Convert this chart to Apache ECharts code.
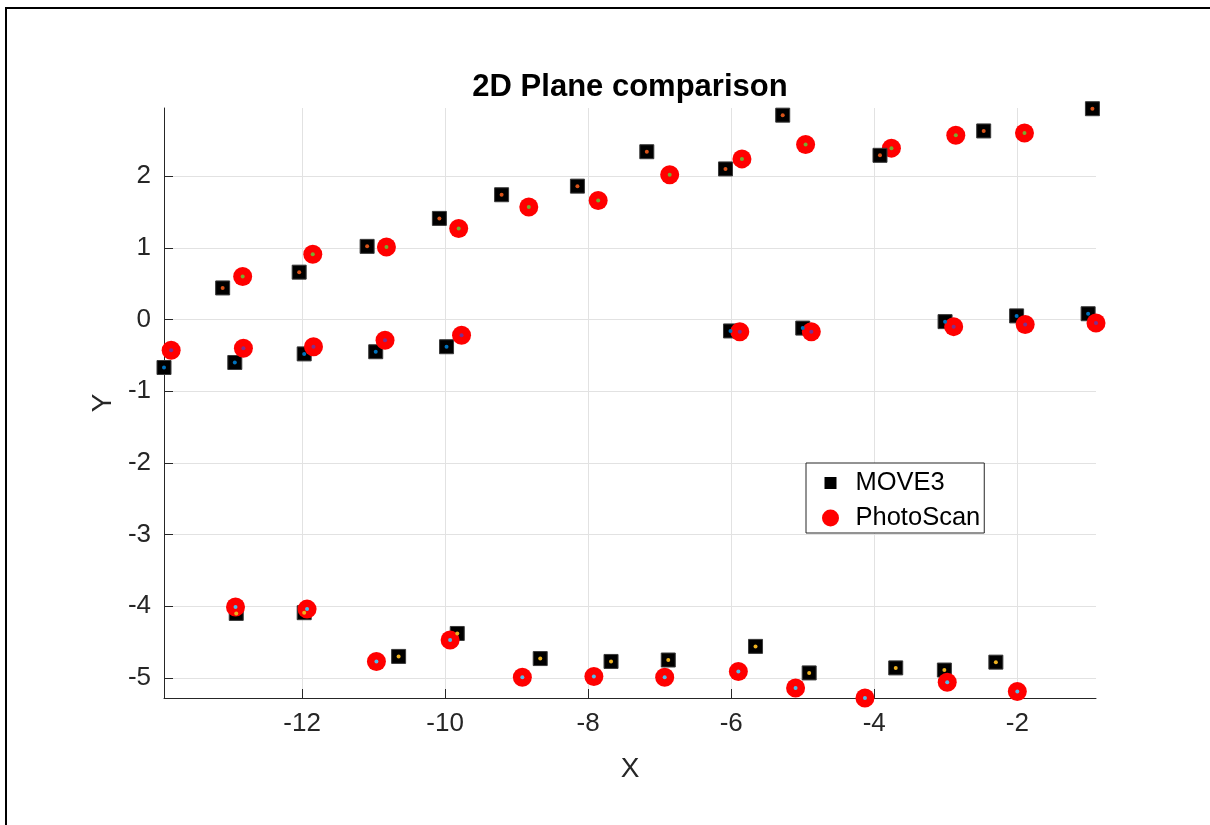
<!DOCTYPE html>
<html>
<head>
<meta charset="utf-8">
<script src="https://cdn.jsdelivr.net/npm/echarts@6/dist/echarts.min.js"></script>
<style>
html,body{margin:0;padding:0;background:#fff;}
#chart{width:1210px;height:825px;}
</style>
</head>
<body>
<div id="chart"></div>
<script>
// ---- data ----
const xTicks = [-12, -10, -8, -6, -4, -2];
const yTicks = [-5, -4, -3, -2, -1, 0, 1, 2];

const move3TopX = [-13.11, -12.04, -11.09, -10.08, -9.21, -8.15, -7.18, -6.08, -5.28, -3.92, -2.47, -0.95];
const move3TopY = [0.44, 0.66, 1.02, 1.41, 1.74, 1.86, 2.34, 2.10, 2.85, 2.29, 2.63, 2.94];
const photoTopX = [-12.83, -11.85, -10.82, -9.81, -8.83, -7.86, -6.86, -5.85, -4.96, -3.76, -2.86, -1.90];
const photoTopY = [0.60, 0.91, 1.01, 1.27, 1.57, 1.66, 2.02, 2.24, 2.44, 2.39, 2.57, 2.60];

const move3MidX = [-13.93, -12.94, -11.97, -10.97, -9.98, -6.01, -5.00, -3.01, -2.01, -1.01];
const move3MidY = [-0.67, -0.60, -0.48, -0.45, -0.38, -0.16, -0.12, -0.03, 0.05, 0.08];
const photoMidX = [-13.83, -12.82, -11.84, -10.84, -9.77, -5.88, -4.88, -2.89, -1.89, -0.90];
const photoMidY = [-0.43, -0.40, -0.38, -0.29, -0.22, -0.17, -0.17, -0.10, -0.07, -0.05];

const move3BotX = [-12.92, -11.97, -10.65, -9.83, -8.67, -7.68, -6.88, -5.66, -4.91, -3.70, -3.02, -2.30];
const move3BotY = [-4.10, -4.09, -4.70, -4.38, -4.73, -4.77, -4.75, -4.56, -4.93, -4.86, -4.89, -4.78];
const photoBotX = [-12.93, -11.93, -10.96, -9.93, -8.92, -7.92, -6.93, -5.90, -5.10, -4.13, -2.98, -2.00];
const photoBotY = [-4.01, -4.04, -4.77, -4.47, -4.99, -4.98, -4.99, -4.91, -5.14, -5.28, -5.06, -5.19];

// ---- build ----
function pts(xs, ys) { return xs.map((x, i) => [x, ys[i]]); }

const FONT = 'Liberation Sans, Arial, Helvetica, sans-serif';
const AX = '#262626';

function move3Series(data) {
  return { name: 'MOVE3', type: 'scatter', data: data, symbol: 'rect', symbolSize: 14,
    itemStyle: { color: '#000000', borderColor: '#3a3a3a', borderWidth: 1, opacity: 1 }, z: 2, silent: true };
}
function photoSeries(data) {
  return { name: 'PhotoScan', type: 'scatter', data: data, symbol: 'circle', symbolSize: 19,
    itemStyle: { color: '#ff0000', opacity: 1 }, z: 2, silent: true };
}
function dotSeries(name, data, color) {
  return { name: name, type: 'scatter', data: data, symbol: 'circle', symbolSize: 4,
    itemStyle: { color: color, opacity: 1 }, z: 3, silent: true };
}

const series = [
  photoSeries(pts(photoTopX, photoTopY)),
  move3Series(pts(move3TopX, move3TopY)),
  move3Series(pts(move3MidX, move3MidY)),
  photoSeries(pts(photoMidX, photoMidY)),
  move3Series(pts(move3BotX, move3BotY)),
  photoSeries(pts(photoBotX, photoBotY)),
  dotSeries('m-top', pts(move3TopX, move3TopY), '#D95319'),
  dotSeries('p-top', pts(photoTopX, photoTopY), '#77AC30'),
  dotSeries('m-mid', pts(move3MidX, move3MidY), '#0072BD'),
  dotSeries('p-mid', pts(photoMidX, photoMidY), '#7E2F8E'),
  dotSeries('m-bot', pts(move3BotX, move3BotY), '#EDB120'),
  dotSeries('p-bot', pts(photoBotX, photoBotY), '#4DBEEE')
];

const chart = echarts.init(document.getElementById('chart'), null, { renderer: 'canvas' });
chart.setOption({
  backgroundColor: '#ffffff',
  animation: false,
  title: {
    text: '2D Plane comparison',
    left: 630, top: 72, textAlign: 'center', padding: 0,
    textStyle: { fontFamily: FONT, fontSize: 31, fontWeight: 'bold', color: '#000' }
  },
  grid: { left: 164, top: 108, width: 932, height: 590, containLabel: false },
  xAxis: {
    type: 'value', min: -13.93, max: -0.90,
    name: 'X', nameLocation: 'middle', nameGap: 57,
    nameTextStyle: { fontFamily: FONT, fontSize: 28, color: AX },
    axisLine: { show: true, onZero: false, lineStyle: { color: AX, width: 1 } },
    axisTick: { show: true, inside: true, length: 9, customValues: xTicks, lineStyle: { color: AX } },
    axisLabel: { customValues: xTicks, fontFamily: FONT, fontSize: 26, color: AX, margin: 13 },
    splitLine: { show: true, lineStyle: { color: '#e2e2e2', width: 1 } }
  },
  yAxis: {
    type: 'value', min: -5.28, max: 2.95,
    name: 'Y', nameLocation: 'middle', nameGap: 40,
    nameTextStyle: { fontFamily: FONT, fontSize: 28, color: AX },
    axisLine: { show: true, onZero: false, lineStyle: { color: AX, width: 1 } },
    axisTick: { show: true, inside: true, length: 9, customValues: yTicks, lineStyle: { color: AX } },
    axisLabel: { customValues: yTicks, fontFamily: FONT, fontSize: 26, color: AX, margin: 13 },
    splitLine: { show: true, lineStyle: { color: '#e2e2e2', width: 1 } }
  },
  legend: {
    orient: 'vertical', left: 806, top: 463,
    data: [
      { name: 'MOVE3', icon: 'path://M0,0M17,17M2.5,2.5h12v12h-12z', itemStyle: { borderWidth: 0, color: '#000' } },
      { name: 'PhotoScan', icon: 'circle' }
    ],
    itemWidth: 40, itemHeight: 17, itemGap: 9,
    padding: [7, 4, 2, 16],
    borderColor: AX, borderWidth: 1, backgroundColor: '#ffffff',
    textStyle: { fontFamily: FONT, fontSize: 25.5, color: '#000', lineHeight: 24 },
    selectedMode: false
  },
  graphic: [{
    type: 'rect', silent: true, z: 100,
    shape: { x: 6, y: 8, width: 1300, height: 900 },
    style: { fill: 'none', stroke: '#000', lineWidth: 2 }
  }],
  series: series
});
</script>
</body>
</html>
